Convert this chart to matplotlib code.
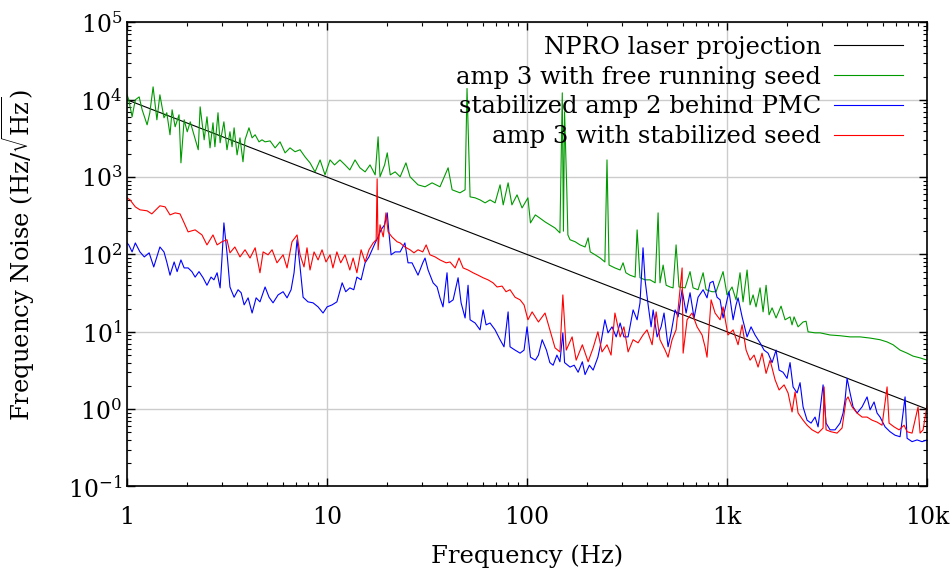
import numpy as np
import matplotlib
matplotlib.use("Agg")
import matplotlib.pyplot as plt
from matplotlib.ticker import (LogLocator, FixedLocator, FixedFormatter, NullFormatter,
                               LogFormatterMathtext)

# values (frequency in Hz, noise in Hz/sqrt(Hz))
npro_f = [1.0, 10000.0]
npro_v = [10000.0, 1.0]

green_f = [1.0, 1.02, 1.06, 1.10, 1.15, 1.19, 1.26, 1.30, 1.35, 1.41, 1.46, 1.53, 1.58, 1.64,
           1.68, 1.74, 1.82, 1.86, 1.93, 2.0, 2.07, 2.16, 2.27, 2.32, 2.43, 2.51, 2.60, 2.69,
           2.75, 2.85, 2.92, 3.05, 3.16, 3.27, 3.35, 3.43, 3.55, 3.67, 3.80, 3.89, 4.07, 4.22,
           4.37, 4.57, 4.73, 4.9, 5.19, 5.5, 5.82, 6.17, 6.53, 6.92, 7.33, 7.76, 8.22, 8.71,
           9.23, 9.77, 10.35, 10.9, 11.6, 12.3, 13.0, 13.8, 14.6, 15.5, 16.4, 17.4, 18.0, 18.4,
           19.4, 20.0, 20.7, 21.9, 23.2, 24.8, 26.0, 28.5, 30.9, 33.5, 36.7, 40.3, 42.2, 46.2,
           49.0, 50.1, 51.9, 55.0, 58.2, 61.7, 65.3, 69.2, 73.3, 76.0, 80.4, 84.0, 89.1, 94.4,
           101, 104, 110, 116, 123, 130, 138, 146, 150, 152, 154, 158, 160, 164, 174, 184, 195,
           202, 207, 219, 232, 245, 251, 257, 275, 292, 302, 312, 327, 347, 355, 367, 389, 412,
           437, 452, 462, 479, 496, 519, 537, 556, 575, 617, 653, 676, 716, 759, 785, 841, 881,
           955, 1000, 1059, 1109, 1161, 1202, 1259, 1303, 1349, 1396, 1462, 1514, 1567, 1622,
           1679, 1758, 1862, 1950, 2065, 2113, 2163, 2265, 2399, 2483, 2541, 2754, 2917, 3273,
           3673, 4121, 4624, 5188, 5821, 6310, 6761, 7328, 7943, 8511, 9226, 10000]
green_v = [11600, 10000, 6030, 10000, 10900, 7430, 4750, 6800, 14700, 5510, 11600, 5850, 6800, 3530,
           7430, 4480, 6400, 1530, 5510, 3860, 5190, 3530, 2260, 8110, 3040, 6030, 2390, 5040,
           2470, 6800, 2780, 5190, 2260, 3860, 2470, 4340, 1940, 3220, 1580, 3040, 4340, 3220,
           3530, 2860, 3040, 2860, 2940, 2390, 2860, 2060, 2390, 2130, 2260, 1830, 1530, 1170,
           1670, 1070, 1670, 1440, 1670, 1440, 1240, 1670, 1320, 1170, 1440, 1070, 3320, 1010,
           1440, 2060, 1070, 1170, 1010, 1530, 1010, 795, 750, 844, 750, 1320, 686, 627,
           686, 14000, 556, 540, 508, 465, 508, 465, 795, 438, 844, 438, 590, 400,
           540, 256, 325, 295, 264, 242, 220, 190, 12300, 200, 7000, 686, 179, 155, 146, 133, 125,
           164, 108, 99, 90, 80, 1670, 73, 67, 63, 78, 58, 54, 51, 208, 50, 47, 47,
           43, 345, 43, 73, 40, 38, 37, 133, 38, 37, 60, 37, 35, 58, 35, 33, 33,
           60, 30, 38, 25.9, 58, 24.4, 63, 22.3, 30, 21.0, 37, 18.1, 40, 16.6,
           20.4, 15.1, 21.5, 14.3, 15.6, 12.3, 15.6, 11.6, 13.4, 13.7, 10.0, 9.7, 9.7, 9.1,
           8.9, 8.6, 8.6, 8.3, 7.9, 7.4, 6.8, 5.8, 5.3, 4.85, 4.6, 4.3]

blue_f = [1.0, 1.02, 1.06, 1.10, 1.16, 1.22, 1.29, 1.36, 1.46, 1.53, 1.58, 1.64, 1.72, 1.78,
          1.86, 1.93, 2.02, 2.11, 2.19, 2.29, 2.40, 2.51, 2.63, 2.72, 2.82, 2.92, 2.98, 3.05,
          3.16, 3.27, 3.43, 3.59, 3.72, 3.85, 4.03, 4.22, 4.42, 4.62, 4.90, 5.13, 5.37, 5.69,
          6.03, 6.31, 6.61, 6.84, 7.08, 7.33, 7.59, 8.03, 8.51, 9.02, 9.55, 10.0, 10.6, 11.2,
          11.9, 12.4, 13.0, 13.6, 14.1, 14.8, 15.5, 16.2, 16.8, 17.4, 18.0, 18.6, 19.4, 20.0,
          20.4, 20.9, 21.9, 23.2, 24.5, 25.4, 26.6, 28.5, 30.1, 30.9, 32.0, 33.9, 35.5, 36.7,
          38.0, 39.8, 40.7, 42.7, 45.2, 46.8, 49.0, 50.7, 51.9, 55.0, 58.2, 60.3, 62.4, 65.3,
          69.2, 73.3, 76.7, 80.4, 82.2, 87.1, 92.3, 96.6, 100, 104, 110, 114, 119, 125, 130,
          135, 141, 146, 151, 154, 164, 172, 180, 189, 195, 205, 214, 226, 234, 245, 254, 266,
          279, 292, 305, 320, 339, 355, 367, 380, 389, 403, 417, 427, 447, 468, 484, 507, 525,
          550, 569, 596, 624, 653, 684, 716, 759, 794, 822, 851, 891, 923, 955, 1000, 1023,
          1072, 1109, 1135, 1189, 1259, 1318, 1380, 1462, 1531, 1603, 1679, 1758, 1820, 1905,
          1995, 2065, 2138, 2239, 2317, 2399, 2512, 2630, 2754, 2851, 3020, 3126, 3273, 3467,
          3673, 3802, 3890, 3981, 4121, 4266, 4467, 4732, 5012, 5188, 5433, 5623, 5821, 6166,
          6531, 6918, 7328, 7762, 7943, 8414, 8913, 9441, 10000]
blue_v = [141, 133, 108, 141, 108, 93, 105, 69, 125, 108, 80, 54, 80, 60,
          85, 67, 67, 60, 51, 60, 50, 40, 51, 47, 58, 37, 85, 256,
          105, 38, 28, 35, 32, 22.3, 27.5, 17.5, 27.5, 24.4, 38, 28, 23.7, 30,
          33, 27.5, 35, 58, 155, 69, 28, 24.4, 23.7, 21.0, 17.5, 21.0, 22.3, 24.4,
          43, 33, 37, 35, 51, 47, 78, 93, 115, 141, 169, 208, 242, 345,
          190, 99, 108, 108, 141, 78, 78, 54, 78, 90, 63, 43, 38, 27.5,
          21.0, 58, 23.7, 25.9, 50, 23.7, 15.1, 40, 14.3, 13.0, 10.6, 19.2, 12.3, 13.0,
          10.6, 7.9, 6.4, 18.1, 6.4, 5.8, 5.3, 5.8, 11.6, 4.7, 4.3, 5.0, 7.9, 5.8, 4.0,
          3.7, 5.0, 4.1, 9.7, 4.0, 3.5, 3.7, 3.0, 4.1, 2.8, 3.7, 3.2, 4.7, 7.2, 14.3, 9.7, 11.6,
          8.6, 13.0, 8.6, 8.6, 19.2, 14.3, 23.7, 122, 47, 22.3, 11.6, 19.2, 8.6, 11.6, 17.5, 6.4, 9.7,
          19.2, 15.6, 35, 17.5, 32, 15.1, 28, 35, 27.5, 43, 45, 28, 25.9, 15.1, 25.9, 33,
          14.3, 22.3, 27.5, 15.6, 8.6, 11.6, 9.1, 7.2, 5.8, 5.3, 4.0, 5.8, 3.2, 3.0,
          2.5, 4.0, 1.94, 1.62, 2.2, 1.07, 0.72, 0.66, 0.79, 0.59, 2.06, 0.66, 0.54, 0.54,
          0.66, 0.89, 1.32, 2.5, 1.62, 1.07, 0.89, 1.07, 1.44, 0.98, 1.24, 0.89, 0.79, 0.59,
          0.51, 0.46, 0.44, 1.44, 0.42, 0.38, 0.40, 0.38, 0.40]

red_f = [1.0, 1.035, 1.10, 1.16, 1.26, 1.33, 1.46, 1.55, 1.64, 1.74, 1.84, 1.93, 2.02, 2.19,
         2.37, 2.51, 2.69, 2.82, 2.98, 3.16, 3.27, 3.46, 3.67, 3.89, 4.12, 4.37, 4.62, 4.79,
         5.07, 5.31, 5.62, 6.03, 6.31, 6.68, 7.08, 7.33, 7.67, 7.94, 8.22, 8.61, 9.02, 9.44,
         9.88, 10.35, 10.7, 11.2, 11.7, 12.3, 13.0, 13.5, 14.1, 14.8, 15.5, 16.2, 17.0, 17.6,
         17.8, 18.0, 18.4, 19.1, 19.7, 20.2, 21.1, 22.4, 23.2, 24.5, 26.0, 27.2, 28.5, 30.1,
         31.3, 32.7, 34.7, 36.7, 39.4, 41.2, 43.7, 45.7, 47.9, 50.7, 53.7, 56.9, 60.3, 63.8,
         67.6, 70.8, 75.0, 78.5, 82.2, 87.1, 92.3, 96.6, 101, 106, 114, 123, 130, 138, 146,
         151, 157, 168, 176, 189, 202, 214, 226, 237, 251, 263, 275, 292, 305, 320, 339, 359,
         380, 398, 422, 442, 462, 490, 507, 531, 556, 582, 596, 603, 631, 668, 708, 750, 776,
         794, 832, 871, 923, 955, 1010, 1072, 1135, 1189, 1245, 1303, 1365, 1429, 1496, 1567,
         1641, 1738, 1820, 1928, 2018, 2113, 2188, 2265, 2399, 2512, 2661, 2851, 3020, 3055,
         3126, 3311, 3548, 3758, 3936, 4027, 4217, 4467, 4732, 5012, 5309, 5623, 5957, 6310,
         6457, 6839, 7244, 7674, 7943, 8414, 9016, 9226, 9550, 10000]
red_v = [540, 508, 413, 378, 367, 335, 426, 413, 325, 345, 335, 256, 196, 208,
         179, 133, 179, 133, 146, 155, 105, 125, 93, 115, 90, 122, 58, 108,
         99, 115, 78, 99, 67, 146, 179, 99, 69, 122, 63, 108, 85, 115,
         80, 99, 67, 108, 78, 99, 63, 90, 58, 115, 80, 115, 141, 155,
         950, 115, 242, 169, 345, 196, 169, 146, 141, 125, 115, 105, 115, 108,
         133, 99, 93, 85, 78, 80, 67, 90, 67, 63, 58, 54, 50, 47,
         43, 38, 39, 33, 35, 28, 25.9, 22.3, 14.3, 18.1, 13.4, 17.5, 10.6, 6.2, 5.5,
         30, 5.8, 8.6, 4.3, 6.8, 4.1, 6.2, 10.0, 5.5, 6.8, 5.0, 17.5, 8.6, 11.6, 5.5, 7.9, 7.2,
         9.1, 10.6, 6.8, 18.1, 7.9, 5.8, 4.7, 7.9, 10.6, 35, 67, 5.3, 14.3, 17.5, 11.6, 9.1, 6.4,
         4.7, 25.9, 17.5, 14.3, 21, 9.1, 10.6, 6.8, 12.3, 5.8, 4.3, 5.0, 3.5, 5.3, 2.9,
         4.3, 2.4, 1.77, 2.06, 1.62, 0.92, 1.67, 0.89, 0.72, 0.62, 0.54, 0.49, 0.57, 1.94,
         0.54, 0.51, 0.49, 0.57, 1.32, 1.44, 1.07, 0.89, 0.79, 0.79, 0.72, 0.68, 0.62, 1.94,
         0.66, 0.59, 0.54, 0.62, 0.51, 0.49, 1.07, 0.49, 0.54, 1.13]

labels = ["NPRO laser projection", "amp 3 with free running seed",
          "stabilized amp 2 behind PMC", "amp 3 with stabilized seed"]
xtick_vals = [1, 10, 100, 1000, 10000]
xtick_text = ["1", "10", "100", "1k", "10k"]
ytick_vals = [0.1, 1, 10, 100, 1000, 10000, 100000]

plt.rcParams["font.family"] = "DejaVu Serif"
plt.rcParams["mathtext.fontset"] = "cm"
plt.rcParams["font.size"] = 17

fig = plt.figure(figsize=(9.53, 5.76), dpi=100)
ax = fig.add_axes([0.1333, 0.1554, 0.8395, 0.8056])

ax.plot(npro_f, npro_v, color="black", lw=0.8, label=labels[0])
ax.plot(green_f, green_v, color="#009a00", lw=0.8, label=labels[1])
ax.plot(blue_f, blue_v, color="#0000ff", lw=0.8, label=labels[2])
ax.plot(red_f, red_v, color="#ff0000", lw=0.8, label=labels[3])

ax.set_xscale("log")
ax.set_yscale("log")
ax.set_xlim(1, 10000)
ax.set_ylim(0.1, 1e5)

ax.xaxis.set_major_locator(FixedLocator(xtick_vals))
ax.xaxis.set_major_formatter(FixedFormatter(xtick_text))
ax.xaxis.set_minor_locator(LogLocator(base=10, subs=np.arange(2, 10)))
ax.xaxis.set_minor_formatter(NullFormatter())
ax.yaxis.set_major_locator(FixedLocator(ytick_vals))
ax.yaxis.set_major_formatter(LogFormatterMathtext())
ax.yaxis.set_minor_locator(LogLocator(base=10, subs=np.arange(2, 10), numticks=20))
ax.yaxis.set_minor_formatter(NullFormatter())

ax.grid(True, which="major", color="#cccccc", lw=1)
ax.set_axisbelow(True)
ax.tick_params(which="both", direction="in", top=True, right=True, labelsize=17)
ax.tick_params(which="major", length=6, width=1)
ax.tick_params(which="minor", length=3, width=0.8)
ax.tick_params(axis="x", pad=14)
for s in ax.spines.values():
    s.set_linewidth(1.2)

ax.set_xlabel("Frequency (Hz)", fontsize=17.5)
ax.xaxis.set_label_coords(0.5, -0.125)
ax.set_ylabel(r"Frequency Noise (Hz/$\sqrt{\mathrm{Hz}}$)", fontsize=17.5,
              math_fontfamily="dejavuserif")
ax.yaxis.set_label_coords(-0.112, 0.5)

ax.legend(loc="upper right", bbox_to_anchor=(0.986, 1.0), frameon=False, markerfirst=False,
          handlelength=2.8, handletextpad=0.55, labelspacing=0.28, borderaxespad=0.15,
          fontsize=17.5)

fig.savefig("out.png", dpi=100)
